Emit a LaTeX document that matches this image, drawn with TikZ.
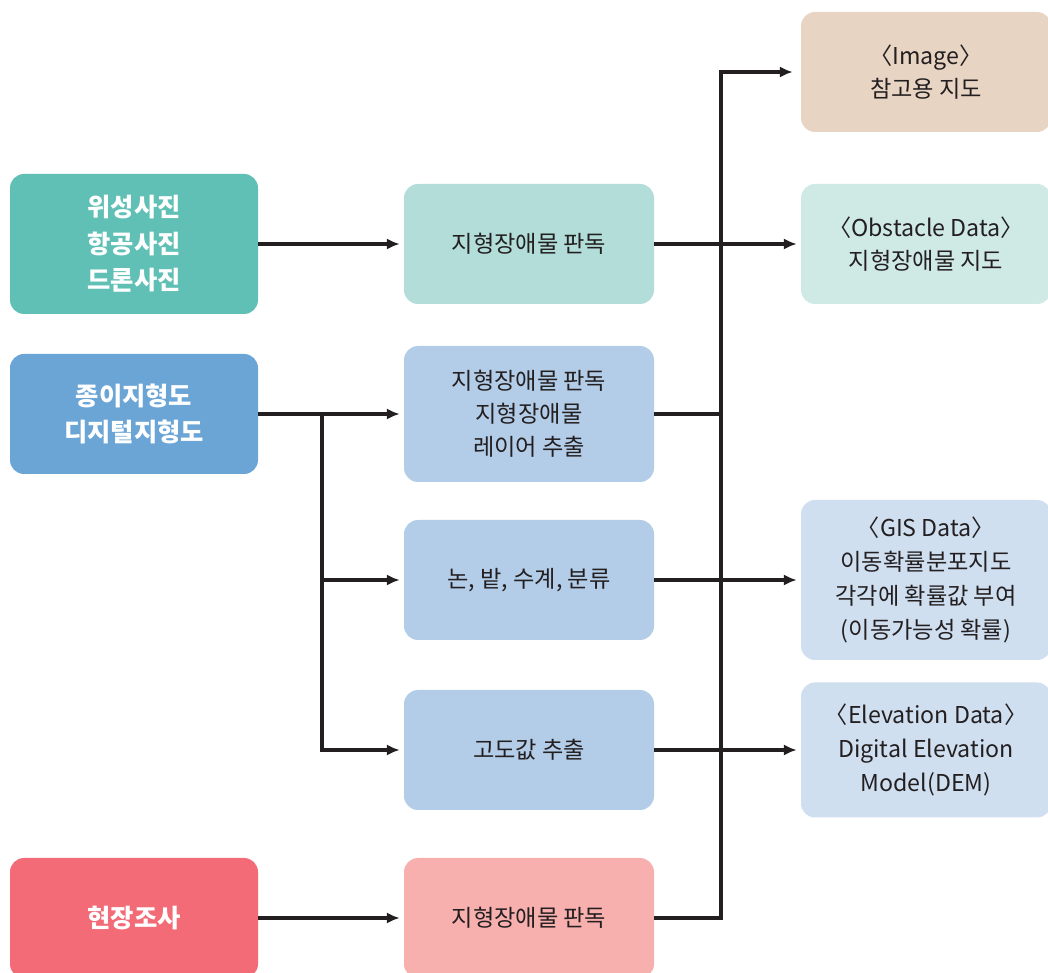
\documentclass[tikz,border=0pt]{standalone}
\usepackage{fontspec}
\setmainfont{Noto Sans CJK KR}
\usepackage{tikz}
\usetikzlibrary{arrows.meta,positioning,calc}
\definecolor{InkDark}{HTML}{231F20}
\definecolor{SrcTeal}{HTML}{61C0B5}
\definecolor{SrcBlue}{HTML}{6BA5D6}
\definecolor{SrcRed}{HTML}{F26B77}
\definecolor{StepTeal}{HTML}{B2DDD8}
\definecolor{StepBlue}{HTML}{B3CDE8}
\definecolor{StepPink}{HTML}{F8B0AF}
\definecolor{OutTan}{HTML}{E8D4C3}
\definecolor{OutTeal}{HTML}{CFE9E5}
\definecolor{OutBlue}{HTML}{D0DFF0}

\tikzset{
  srcbox/.style={draw=none,rounded corners=0.35cm,minimum width=6.2cm,minimum height=3.0cm,
    align=center,text=white,font=\fontsize{18}{26}\selectfont\bfseries},
  stepbox/.style={draw=none,rounded corners=0.35cm,minimum width=6.25cm,minimum height=3.0cm,
    align=center,text=InkDark,font=\fontsize{16.5}{23.5}\selectfont},
  outbox/.style={draw=none,rounded corners=0.35cm,minimum width=6.25cm,minimum height=3.0cm,
    align=center,text=InkDark,font=\fontsize{16.5}{24}\selectfont},
  flow/.style={line width=2.5pt,draw=InkDark},
  flowarr/.style={flow,-{Latex[length=0.32cm,width=0.28cm]},shorten >=0.1cm}
}

\begin{document}
\begin{tikzpicture}[x=1.0cm,y=1.0cm]
  \useasboundingbox (0,0) rectangle (26.2,24.325);
  % sources
  \node[srcbox,fill=SrcTeal,minimum height=3.5cm] (photo) at (3.35,18.225) {위성사진\\항공사진\\드론사진};
  \node[srcbox,fill=SrcBlue] (topo) at (3.35,13.975) {종이지형도\\디지털지형도};
  \node[srcbox,fill=SrcRed] (field) at (3.35,1.375) {현장조사};
  % processing steps
  \node[stepbox,fill=StepTeal] (readA) at (13.225,18.225) {지형장애물 판독};
  \node[stepbox,fill=StepBlue,minimum height=3.4cm] (layer) at (13.225,13.975) {지형장애물 판독\\지형장애물\\레이어 추출};
  \node[stepbox,fill=StepBlue] (landuse) at (13.225,9.825) {논, 밭, 수계, 분류};
  \node[stepbox,fill=StepBlue] (height) at (13.225,5.575) {고도값 추출};
  \node[stepbox,fill=StepPink] (readB) at (13.225,1.375) {지형장애물 판독};
  % outputs
  \node[outbox,fill=OutTan] (image) at (23.15,22.525) {〈Image〉\\참고용 지도};
  \node[outbox,fill=OutTeal] (obst) at (23.15,18.225) {〈Obstacle Data〉\\지형장애물 지도};
  \node[outbox,fill=OutBlue,minimum height=4.0cm] (gis) at (23.15,9.825) {〈GIS Data〉\\이동확률분포지도\\각각에 확률값 부여\\(이동가능성 확률)};
  \node[outbox,fill=OutBlue,minimum height=3.375cm] (dem) at (23.15,5.575) {〈Elevation Data〉\\Digital Elevation\\Model(DEM)};
  % helper points
  \coordinate (split) at (8.05,13.975);
  \coordinate (busTop) at (18.025,22.525);
  % connectors
  \draw[flowarr] (photo.east) -- (readA.west);
  \draw[flowarr] (topo.east) -- (layer.west);
  \draw[flowarr] (split) |- (landuse.west);
  \draw[flowarr] (split) |- (height.west);
  \draw[flowarr] (field.east) -- (readB.west);
  \draw[flowarr,shorten >=0.2cm] (readB.east) -| (busTop) -- (image.west);
  \draw[flow] (layer.east) -- (layer.east -| busTop);
  \draw[flowarr] (readA.east) -- (obst.west);
  \draw[flowarr] (landuse.east) -- (gis.west);
  \draw[flowarr] (height.east) -- (dem.west);
\end{tikzpicture}
\end{document}
